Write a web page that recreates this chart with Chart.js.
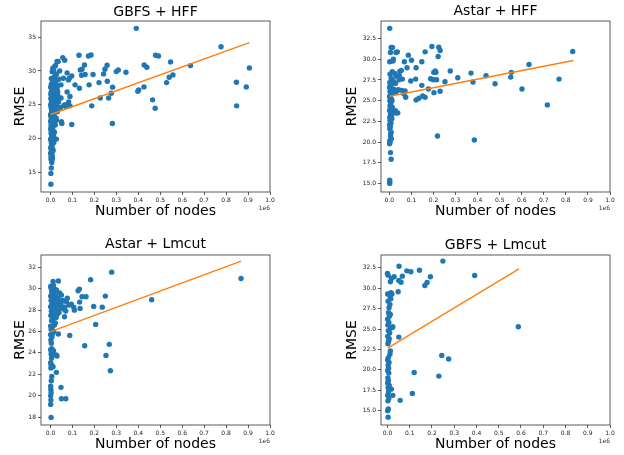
<!DOCTYPE html>
<html>
<head>
<meta charset="utf-8">
<script src="https://cdn.jsdelivr.net/npm/chart.js@4.4.1/dist/chart.umd.min.js"></script>
<style>
  body { margin: 0; background: #fff; width: 624px; height: 455px; position: relative; overflow: hidden; }
  canvas { position: absolute; }
</style>
</head>
<body>
<canvas id="c1" width="312" height="227" style="left:0;top:0"></canvas>
<canvas id="c2" width="312" height="227" style="left:312px;top:0"></canvas>
<canvas id="c3" width="312" height="228" style="left:0;top:227px"></canvas>
<canvas id="c4" width="312" height="228" style="left:312px;top:227px"></canvas>
<script>
// x values are in units of 1e6 nodes
var titles = ['GBFS + HFF', 'Astar + HFF', 'Astar + Lmcut', 'GBFS + Lmcut'];
var xTicks = [0, 0.1, 0.2, 0.3, 0.4, 0.5, 0.6, 0.7, 0.8, 0.9, 1.0];

// GBFS + HFF
var gbfsHffX = [0.391,0.777,0.906,0.847,0.848,0.892,0.638,0.547,0.479,0.492,0.427,0.439,0.558,0.541,0.529,0.402,0.398,0.426,0.465,0.477,
  0.344,0.309,0.300,0.259,0.283,0.277,0.265,0.227,0.221,0.282,0.258,0.248,0.242,0.194,0.185,0.173,0.130,0.176,0.188,0.155,
  0.158,0.144,0.136,0.142,0.132,0.112,0.097,0.076,0.086,0.082,0.089,0.083,0.089,0.076,0.070,0.097,0.050,0.052,0.056,0.065,
  0.035,0.023,0.042,0.015,0.027,0.059,0.039,0.048,0.061,0.027,
  0.002,0.002,0.004,0.006,0.003,0.008,0.001,0.005,0.010,0.002,0.007,0.004,0.012,0.001,0.006,0.009,0.003,0.014,0.002,0.007,
  0.005,0.011,0.001,0.008,0.004,0.016,0.002,0.010,0.006,0.020,0.003,0.013,0.001,0.008,0.025,0.005,0.017,0.002,0.011,0.030,
  0.006,0.021,0.003,0.014,0.009,0.024,0.001,0.018,0.006,0.012,0.004,0.008,0.019,0.028,0.033,0.037,0.032,0.026,0.022,0.018,
  0.015,0.012,0.009,0.020,0.030,0.011,0.045,0.068,0.048,0.023,0.031,0.015,0.027,0.003,0.005,0.007,0.004,0.010,0.013,0.016,
  0.004,0.012,0.020,0.028,0.006,0.015,0.024,0.032,0.002,0.010,0.018,0.026,0.034,0.005,0.014,0.022,0.030,0.003,0.011,0.019,
  0.027,0.007,0.016,0.025,0.001,0.009,0.017,0.004,0.013,0.021,0.006,0.012,0.002,0.010,0.005,0.014,0.003,0.008,0.011,0.006,
  0.002,0.009,0.004,0.007,0.003,0.010,0.005,0.008];
var gbfsHffY = [36.33,33.6,30.46,28.33,24.83,27.64,30.8,31.35,32.33,32.23,30.9,30.56,29.42,29.07,28.28,27.2,27.0,27.64,25.72,24.48,
  29.81,30.16,29.91,28.48,27.6,26.7,26.0,26.0,28.28,22.21,30.85,30.26,29.57,29.47,32.38,32.23,32.33,27.94,24.83,30.9,
  29.47,30.26,30.16,29.37,27.44,27.94,29.27,29.72,28.93,28.68,26.21,25.42,24.83,26.9,24.73,22.06,22.46,22.21,31.99,31.59,
  31.4,30.8,30.01,30.01,29.52,28.93,28.78,27.94,24.88,19.89,
  13.2,14.8,15.6,16.4,16.9,17.4,17.8,18.1,18.4,18.7,19.0,19.3,19.6,19.9,20.2,20.5,20.8,21.0,21.3,21.6,
  21.9,22.2,22.5,22.8,23.1,23.3,23.6,23.8,24.1,24.2,24.5,24.7,25.0,25.2,25.1,25.5,25.7,25.9,26.1,26.0,
  26.4,26.5,26.8,27.0,27.3,27.4,27.6,27.8,28.1,28.3,28.9,29.9,29.2,28.6,26.9,25.4,24.0,23.0,22.0,20.9,
  19.4,18.2,17.1,30.7,31.4,30.4,24.6,25.0,26.0,27.9,27.2,28.9,22.7,22.0,20.0,24.0,26.0,25.0,26.7,24.9,
  28.0,27.9,28.2,27.7,27.2,27.5,26.9,27.8,26.5,26.7,26.2,26.6,26.3,25.8,25.5,25.9,25.3,24.9,25.1,24.6,
  24.8,24.2,24.4,23.9,23.4,23.5,23.2,22.8,22.6,22.9,22.1,21.8,21.5,21.2,20.6,20.4,19.7,19.9,20.9,18.9,
  18.5,18.0,17.5,16.8,17.2,21.4,22.4,23.0];
var gbfsHffFitX = [0.001, 0.906];
var gbfsHffFitY = [23.54, 34.21];

// Astar + HFF
var astarHffX = [0.0015,0.008,0.014,0.005,0.030,0.036,0.0015,0.018,0.068,0.086,0.100,0.080,0.121,0.147,0.162,0.193,0.224,0.230,0.221,0.201,
  0.208,0.211,0.187,0.199,0.214,0.276,0.252,0.230,0.202,0.177,0.147,0.119,0.097,0.162,0.151,0.134,0.121,0.310,0.370,0.379,
  0.438,0.479,0.553,0.550,0.633,0.831,0.769,0.601,0.716,0.218,0.385,0.047,0.054,0.045,0.038,0.030,0.059,0.044,0.056,0.071,
  0.074,0.066,0.041,0.038,0.026,0.017,0.012,0.005,0.008,0.005,0.0015,0.0015,0.0015,
  0.001,0.003,0.002,0.009,0.006,0.008,0.002,0.004,0.001,0.007,0.003,0.011,0.002,0.005,0.008,0.001,0.004,0.013,0.003,0.006,
  0.002,0.009,0.001,0.005,0.012,0.003,0.007,0.001,0.004,0.010,0.002,0.015,0.006,0.020,0.025,0.031,0.035,0.017,0.008,0.003,
  0.013,0.024,0.019,0.028,0.012,0.014,0.020,0.027,0.034,0.016];
var astarHffY = [33.74,31.42,31.42,30.82,30.82,30.9,29.7,30.02,29.7,30.5,29.9,28.98,28.98,29.7,30.9,31.54,31.46,31.06,30.34,28.42,
  28.58,28.42,27.65,27.53,27.53,28.58,27.29,26.13,25.97,26.41,26.85,27.61,27.37,25.41,25.57,25.29,25.09,27.77,28.33,27.25,
  28.01,27.05,28.42,27.85,29.38,30.94,27.61,26.41,24.49,20.73,20.25,28.54,28.66,28.01,27.93,27.97,27.61,27.53,26.25,26.17,
  25.41,25.81,26.33,23.53,23.61,23.69,23.29,20.73,17.92,18.72,15.4,15.2,15.0,
  19.8,20.0,20.2,20.4,21.0,21.2,21.6,21.9,22.1,22.3,22.6,22.8,23.0,23.3,23.5,23.8,24.0,24.2,24.4,24.7,
  25.0,25.2,25.5,25.7,25.9,26.1,26.3,26.6,26.8,27.0,27.2,27.1,26.9,26.4,26.2,26.1,26.2,27.4,27.7,28.2,
  28.5,28.3,25.9,27.1,25.0,23.8,23.6,23.8,23.5,29.8];
var astarHffFitX = [0.001, 0.834];
var astarHffFitY = [25.53, 29.86];

// Astar + Lmcut
var astarLmX = [0.279,0.183,0.868,0.461,0.250,0.236,0.197,0.206,0.268,0.156,0.253,0.273,0.162,0.144,0.132,0.126,0.133,0.135,0.088,0.106,
  0.109,0.095,0.077,0.073,0.085,0.065,0.070,0.064,0.050,0.053,0.045,0.039,0.032,0.036,0.012,0.018,0.027,0.0015,0.005,0.048,
  0.050,0.070,0.027,0.003,0.036,0.026,0.030,
  0.001,0.002,0.001,0.003,0.002,0.001,0.004,0.006,0.002,0.003,0.001,0.008,0.012,0.005,0.003,0.009,0.001,0.006,0.014,0.011,
  0.004,0.002,0.007,0.001,0.010,0.015,0.003,0.008,0.001,0.018,0.022,0.005,0.012,0.002,0.009,0.025,0.004,0.015,0.001,0.007,
  0.020,0.003,0.011,0.028,0.001,0.017,0.006,0.023,0.009,0.002,
  0.015,0.025,0.035,0.042,0.020,0.030,0.040,0.012,0.022,0.048,0.033,0.018,0.026,0.010,0.057,0.060,0.014,0.008];
var astarLmY = [31.53,30.82,30.94,28.96,29.3,28.27,28.34,26.66,24.8,24.67,23.77,22.34,29.24,29.24,29.95,29.8,28.74,28.15,25.63,28.27,
  27.99,28.55,29.11,28.77,28.46,28.27,27.9,27.37,29.39,28.83,28.18,27.78,27.62,30.7,30.66,29.95,29.86,30.23,29.92,20.79,
  19.73,19.73,22.19,17.99,25.76,23.8,23.71,
  19.2,19.6,20.0,20.3,20.6,20.9,21.4,21.8,22.6,22.9,23.1,22.8,22.7,23.5,23.9,24.0,24.3,24.4,24.2,23.9,
  24.9,25.2,25.5,25.7,25.8,26.0,26.2,26.4,26.5,26.6,26.8,27.0,27.2,27.5,27.7,27.6,27.9,28.1,28.3,28.6,
  28.7,28.9,29.1,29.0,29.3,29.4,29.6,29.8,30.0,30.1,
  29.5,29.3,29.1,29.6,28.9,28.5,28.7,28.4,28.2,28.5,27.9,27.6,27.3,27.0,28.9,28.1,30.3,29.0];
var astarLmFitX = [0.001, 0.868];
var astarLmFitY = [25.98, 32.56];

// GBFS + Lmcut
var gbfsLmX = [0.249,0.052,0.087,0.105,0.144,0.392,0.193,0.178,0.168,0.067,0.030,0.018,0.013,0.051,0.061,0.048,0.0,0.003,0.588,0.051,
  0.244,0.275,0.120,0.231,0.112,0.057,0.024,0.018,0.013,0.016,0.024,
  0.003,0.001,0.004,0.002,0.006,0.001,0.005,0.003,0.008,0.001,0.004,0.002,0.006,0.001,0.005,0.003,0.007,0.001,0.004,0.011,
  0.013,0.002,0.005,0.008,0.001,0.010,0.004,0.014,0.022,0.002,0.006,0.001,0.009,0.013,0.005,0.007,0.011,0.003,0.015,0.001,
  0.020,0.009];
var gbfsLmY = [33.32,32.7,32.13,32.01,32.21,31.56,31.4,30.7,30.34,31.48,31.4,31.19,30.79,30.95,30.74,29.56,31.8,31.6,25.28,24.01,
  21.77,21.32,19.68,19.23,17.11,16.26,16.87,17.64,28.83,29.44,25.28,
  14.2,15.0,15.2,16.2,16.5,16.9,17.3,17.8,18.1,18.4,18.7,19.0,19.6,19.9,20.2,20.6,20.9,21.2,21.5,21.9,
  22.3,23.2,23.5,23.8,24.1,24.5,24.8,25.1,25.2,25.5,25.8,26.2,26.6,26.8,27.0,27.6,28.0,28.4,28.7,29.3,
  29.3,29.2];
var gbfsLmFitX = [0.001, 0.591];
var gbfsLmFitY = [22.66, 32.38];

var yTicks = [
  [15, 20, 25, 30, 35],
  [15, 17.5, 20, 22.5, 25, 27.5, 30, 32.5],
  [18, 20, 22, 24, 26, 28, 30, 32],
  [15, 17.5, 20, 22.5, 25, 27.5, 30, 32.5]
];
var yDecimals = [0, 1, 0, 1];

// layout of each panel (pixels within its canvas)
var boxes = [
  {H: 227, left: 41, right: 270, tTop: 3.6, tBot: 0.6, yPad: 11.6, bottom: 192, xPad: 7.6, xMin: -0.043, yMin: 12.04, yMax: 37.42},
  {H: 227, left: 69, right: 298, tTop: 3.3, tBot: 0.9, yPad: 32.3, bottom: 192, xPad: 6.9, xMin: -0.038, yMin: 13.96, yMax: 34.63},
  {H: 228, left: 41, right: 270, tTop: 9.1, tBot: 2.1, yPad: 11.6, bottom: 198, xPad: 2.3, xMin: -0.043, yMin: 17.28, yMax: 33.13},
  {H: 228, left: 69, right: 298, tTop: 9.6, tBot: 1.6, yPad: 32.3, bottom: 198, xPad: 2.3, xMin: -0.029, yMin: 13.24, yMax: 34.07}
];

Chart.defaults.font.family = '"DejaVu Sans", sans-serif';
Chart.defaults.color = '#222';

var framePlugin = {
  id: 'frame',
  afterDraw: function(chart) {
    var ctx = chart.ctx, a = chart.chartArea;
    ctx.save();
    ctx.strokeStyle = '#333';
    ctx.lineWidth = 0.8;
    ctx.strokeRect(a.left, a.top, a.right - a.left, a.bottom - a.top);
    ctx.fillStyle = '#333';
    ctx.font = '6px "DejaVu Sans"';
    ctx.textAlign = 'right';
    ctx.textBaseline = 'middle';
    ctx.fillText('1e6', a.right, a.bottom + 16);
    ctx.restore();
  }
};

function pairs(xs, ys) {
  return xs.map(function(x, i) { return {x: x, y: ys[i]}; });
}

function makeChart(id, i, xs, ys, fx, fy) {
  var b = boxes[i];
  return new Chart(document.getElementById(id), {
    type: 'scatter',
    data: {
      datasets: [{
        type: 'line',
        data: pairs(fx, fy),
        borderColor: '#ff7f0e',
        borderWidth: 1.4,
        pointRadius: 0,
        fill: false,
        order: 0
      }, {
        data: pairs(xs, ys),
        backgroundColor: '#1f77b4',
        borderWidth: 0,
        pointRadius: 2.7,
        order: 1
      }]
    },
    options: {
      responsive: false,
      animation: false,
      layout: { padding: { left: 0, top: 0, right: 312 - b.right, bottom: 0 } },
      plugins: {
        legend: { display: false },
        tooltip: { enabled: false },
        title: {
          display: true,
          text: titles[i],
          fullSize: false,
          color: '#000',
          font: { size: 14, weight: 'normal' },
          padding: { top: b.tTop, bottom: b.tBot }
        }
      },
      scales: {
        x: {
          type: 'linear',
          min: b.xMin,
          max: 1.0,
          afterBuildTicks: function(s) { s.ticks = xTicks.map(function(v) { return {value: v}; }); },
          afterFit: function(s) { s.height = b.H - b.bottom; },
          ticks: {
            autoSkip: false, maxRotation: 0, padding: 2,
            font: { size: 6 }, color: '#222',
            callback: function(v) { return v.toFixed(1); }
          },
          grid: { drawOnChartArea: false, drawTicks: true, tickLength: 3, tickColor: '#333', tickWidth: 0.8 },
          border: { display: false },
          title: {
            display: true, text: 'Number of nodes', color: '#000',
            font: { size: 14 }, padding: { top: 0, bottom: b.xPad }
          }
        },
        y: {
          type: 'linear',
          min: b.yMin,
          max: b.yMax,
          afterBuildTicks: function(s) { s.ticks = yTicks[i].map(function(v) { return {value: v}; }); },
          afterFit: function(s) { s.width = b.left; },
          ticks: {
            padding: 2, font: { size: 6 }, color: '#222',
            callback: function(v) { return v.toFixed(yDecimals[i]); }
          },
          grid: { drawOnChartArea: false, drawTicks: true, tickLength: 3, tickColor: '#333', tickWidth: 0.8 },
          border: { display: false },
          title: {
            display: true, text: 'RMSE', color: '#000',
            font: { size: 14 }, padding: { top: b.yPad, bottom: 0 }
          }
        }
      }
    },
    plugins: [framePlugin]
  });
}

makeChart('c1', 0, gbfsHffX, gbfsHffY, gbfsHffFitX, gbfsHffFitY);
makeChart('c2', 1, astarHffX, astarHffY, astarHffFitX, astarHffFitY);
makeChart('c3', 2, astarLmX, astarLmY, astarLmFitX, astarLmFitY);
makeChart('c4', 3, gbfsLmX, gbfsLmY, gbfsLmFitX, gbfsLmFitY);
</script>
</body>
</html>
